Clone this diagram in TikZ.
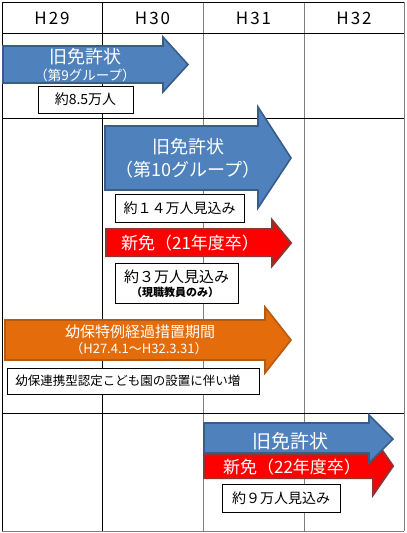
\documentclass[tikz,border=0pt]{standalone}
\usepackage{fontspec}
\setmainfont{Noto Sans CJK JP}
\newcommand\fsz[1]{\fontsize{#1pt}{#1pt}\selectfont}
\definecolor{arrblue}{HTML}{4F81BD}
\definecolor{arrblueb}{HTML}{385D8A}
\definecolor{arrred}{HTML}{FF0000}
\definecolor{arrredb}{HTML}{8E3432}
\definecolor{arrorg}{HTML}{E46C0A}
\definecolor{arrorgb}{HTML}{B45A12}
\definecolor{gridgray}{HTML}{7F7F7F}
\tikzset{
  bluearr/.style={fill=arrblue, draw=arrblueb, line width=1.6pt, line join=miter},
  redarr/.style={fill=arrred, draw=arrredb, line width=2pt, line join=miter},
  orgarr/.style={fill=arrorg, draw=arrorgb, line width=1.6pt, line join=miter},
  wt/.style={text=white, inner sep=0pt},
  hdr/.style={inner sep=0pt, font=\fsz{17}\addfontfeatures{LetterSpace=12}},
  infobox/.style={draw=black, fill=white, line width=0.8pt, inner sep=0pt, align=center},
  blk/.style={draw=black, line width=0.8pt},
  gry/.style={draw=gridgray, line width=0.9pt},
}
\begin{document}
\begin{tikzpicture}[x=1pt, y=-1pt]
\useasboundingbox (0,0) rectangle (407,533);
\fill[white] (0,0) rectangle (407,533);
% grid
\draw[gry] (203,2) -- (203,531);
\draw[gry] (304,2) -- (304,531);
\draw[gry] (404,2) -- (404,531);
\draw[gry] (2,531) -- (404,531);
\draw[blk] (102,2) -- (102,531);
\draw[blk] (2,2) -- (2,531);
\draw[blk] (2,2) -- (404,2);
\draw[blk] (2,33) -- (404,33);
\draw[blk] (2,118) -- (404,118);
\draw[blk] (2,413) -- (404,413);
% header
\node[hdr] (h29) at (52,18) {H29};
\node[hdr] (h30) at (152.5,18) {H30};
\node[hdr] (h31) at (253.5,18) {H31};
\node[hdr] (h32) at (354,18) {H32};
% arrow 1
\draw[bluearr] (3,46) -- (163,46) -- (163,37) -- (188,64.5) -- (163,92) -- (163,83) -- (3,83) -- cycle;
\node[wt, font=\fsz{18}] (a1a) at (85,57) {旧免許状};
\node[wt, font=\fsz{13.5}] (a1b) at (85,75) {（第9グループ）};
\node[infobox, minimum width=95pt, minimum height=27pt, font=\fsz{14}] (b1) at (85.5,99.5) {約8.5万人};
% arrow 2
\draw[bluearr] (105,126) -- (258,126) -- (258,107) -- (291,158) -- (258,208) -- (258,190) -- (105,190) -- cycle;
\node[wt, font=\fsz{18}] (a2a) at (188,147) {旧免許状};
\node[wt, font=\fsz{18}] (a2b) at (188,170) {（第10グループ）};
\node[infobox, minimum width=129pt, minimum height=28pt, font=\fsz{14}] (b2) at (179.5,208) {約１４万人見込み};
% arrow 3
\draw[redarr] (106,229) -- (272,229) -- (272,220) -- (291,243) -- (272,266) -- (272,256) -- (106,256) -- cycle;
\node[wt, font=\fsz{17}] (a3) at (190,243) {新免（21年度卒）};
\node[infobox, minimum width=123pt, minimum height=40pt] (b3) at (176.5,283) {};
\node[inner sep=0pt, font=\fsz{15}] (b3a) at (176.5,277) {約３万人見込み};
\node[inner sep=0pt, font=\fsz{11}\bfseries] (b3b) at (175,292) {（現職教員のみ）};
% arrow 4
\draw[orgarr] (5,320) -- (265,320) -- (265,307) -- (291,340) -- (265,373) -- (265,360) -- (5,360) -- cycle;
\node[wt, font=\fsz{15}] (a4a) at (140,332) {幼保特例経過措置期間};
\node[wt, font=\fsz{13}] (a4b) at (139,349) {（H27.4.1～H32.3.31）};
\node[infobox, minimum width=252pt, minimum height=26pt, font=\fsz{12.5}] (b4) at (133,381) {\hspace*{-10pt}幼保連携型認定こども園の設置に伴い増};
% arrows 5 and 6
\draw[redarr] (204,455) -- (373,455) -- (373,437) -- (393,466) -- (373,495) -- (373,478) -- (204,478) -- cycle;
\draw[bluearr] (204,423) -- (369,423) -- (369,415) -- (393,439) -- (369,463) -- (369,453) -- (204,453) -- cycle;
\node[wt, font=\fsz{19}] (a5) at (290,441) {旧免許状};
\node[wt, font=\fsz{17}] (a6) at (292,467) {新免（22年度卒）};
\node[infobox, minimum width=118pt, minimum height=28pt, font=\fsz{14}] (b5) at (281,498) {約９万人見込み};
\end{tikzpicture}
\end{document}
